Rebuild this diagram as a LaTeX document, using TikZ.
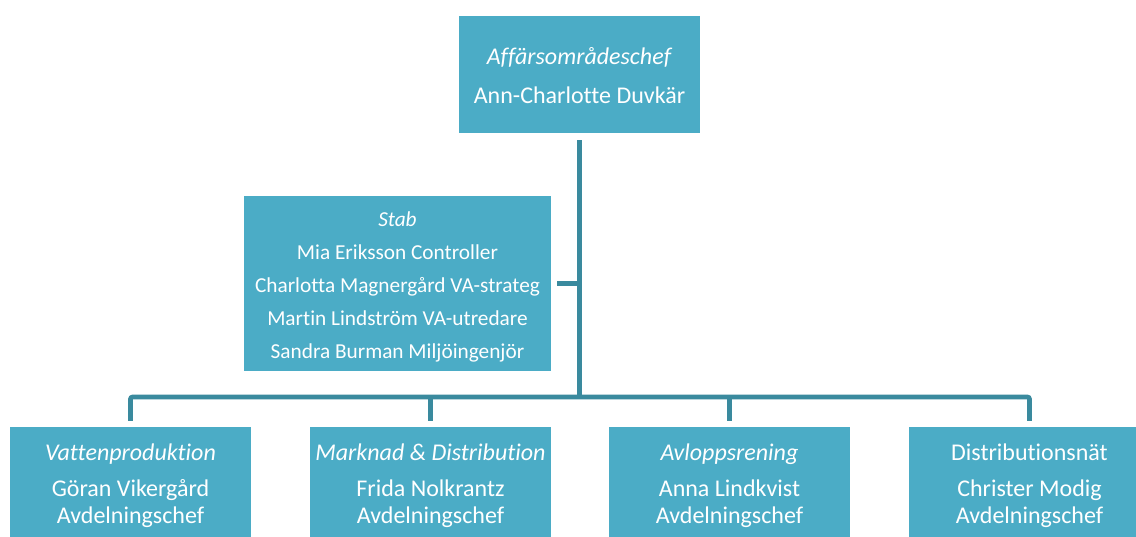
\documentclass[tikz,border=0pt]{standalone}
\usepackage{fontspec}
\setmainfont{Carlito}[Ligatures=NoCommon]
\definecolor{boxfill}{HTML}{4BACC6}
\definecolor{linecol}{HTML}{3A8A9E}
\begin{document}
\begin{tikzpicture}[x=1pt,y=-1pt,
  orgbox/.style={fill=boxfill,draw=none,inner sep=0pt,text=white,align=center},
  bigbox/.style={orgbox,minimum width=241pt,minimum height=117pt},
  conn/.style={draw=linecol,line width=4.6pt}]
\clip (0,0) rectangle (1136,536);
\fill[white] (0,0) rectangle (1136,536);
\node[bigbox,font=\fontsize{24}{39}\selectfont] (top) at (579.5,74.5) {\rule{0pt}{20pt}\textit{Affärsområdeschef}\\Ann-Charlotte Duvkär};
\node[orgbox,minimum width=307pt,minimum height=175pt,font=\fontsize{21.3}{33}\selectfont] (stab) at (397.5,283.5)
  {\rule{0pt}{22pt}\textit{Stab}\\Mia Eriksson Controller\\Charlotta Magnergård VA-strateg\\Martin Lindström VA-utredare\\Sandra Burman Miljöingenjör};
\node[bigbox,font=\fontsize{24}{27}\selectfont] (b1) at (130.5,485.5) {\textit{Vattenproduktion}\\[9pt]Göran Vikergård\\Avdelningschef};
\node[bigbox,font=\fontsize{24}{27}\selectfont] (b2) at (430.5,485.5) {\textit{Marknad \& Distribution}\\[9pt]Frida Nolkrantz\\Avdelningschef};
\node[bigbox,font=\fontsize{24}{27}\selectfont] (b3) at (729.5,485.5) {\textit{Avloppsrening}\\[9pt]Anna Lindkvist\\Avdelningschef};
\node[bigbox,font=\fontsize{24}{27}\selectfont] (b4) at (1029.5,485.5) {Distributionsnät\\[9pt]Christer Modig\\Avdelningschef};
\coordinate (bus) at (580,397);
\draw[conn] ([yshift=-7pt]top.south) -- (top.south |- bus);
\draw[conn] ([xshift=6pt]stab.east) -- (stab.east -| top.south);
\draw[conn,rounded corners=2pt] ([yshift=6pt]b1.north) -- (b1.north |- bus) -- (b4.north |- bus) -- ([yshift=6pt]b4.north);
\draw[conn] ([yshift=6pt]b2.north) -- (b2.north |- bus);
\draw[conn] ([yshift=6pt]b3.north) -- (b3.north |- bus);
\end{tikzpicture}
\end{document}
